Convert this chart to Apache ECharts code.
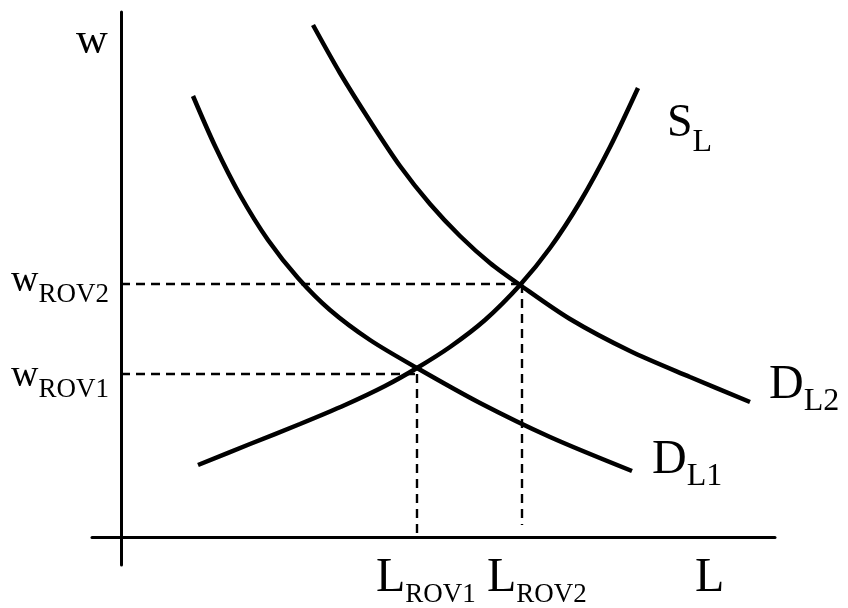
<!DOCTYPE html>
<html>
<head>
<meta charset="utf-8">
<script src="https://cdn.jsdelivr.net/npm/echarts@6/dist/echarts.min.js"></script>
<style>
  html, body { margin: 0; padding: 0; background: #fff; }
  #chart { width: 848px; height: 608px; }
</style>
</head>
<body>
<div id="chart"></div>
<script>
// labour market: supply and two demand curves (L along x, w up the y axis)
var supplyL  = [[77,72],[129,93],[179,113],[224,132],[264,151],[296,169],[329,190],[364,217],[399,252],[429,289],[459,335],[489,390],[517,449]];
var demandL1 = [[72,441],[94,391],[119,342],[147,297],[177,259],[209,227],[249,197],[296,169],[359,134],[429,100],[511,66]];
var demandL2 = [[192,512],[219,464],[249,416],[279,371],[309,333],[339,301],[369,274],[399,252],[449,218],[509,186],[569,160],[629,135]];

// equilibrium points (L, w)
var eq1 = [296, 163];
var eq2 = [401, 253];

var FONT = 'Liberation Serif';

// text labels: main part, subscript part
var labelTexts = {
  w: ['w', ''],
  wRov2: ['w', 'ROV2'],
  wRov1: ['w', 'ROV1'],
  lRov1: ['L', 'ROV1'],
  lRov2: ['L', 'ROV2'],
  l: ['L', ''],
  sL: ['S', 'L'],
  dL1: ['D', 'L1'],
  dL2: ['D', 'L2']
};

var chart = echarts.init(document.getElementById('chart'));

function dashed(points) {
  return {
    type: 'line',
    data: points,
    symbol: 'none',
    silent: true,
    lineStyle: { color: '#000', width: 2.4, type: [9, 6] },
    z: 1
  };
}

function curve(points) {
  return {
    type: 'line',
    data: points,
    symbol: 'none',
    smooth: 0.3,
    silent: true,
    lineStyle: { color: '#000', width: 4.5, cap: 'butt' },
    z: 3
  };
}

// rich-text label with subscript; (x, base) = left edge and baseline of main text
function label(key, x, base, fs, ss, pad) {
  var t = labelTexts[key];
  var txt = '{m|' + t[0] + '}' + (t[1] ? '{s|' + t[1] + '}' : '');
  return {
    type: 'text',
    x: x,
    y: base + 0.195 * fs + pad,
    style: {
      text: txt,
      align: 'left',
      verticalAlign: 'bottom',
      fill: '#000',
      rich: {
        m: { fontFamily: FONT, fontSize: fs, lineHeight: fs, verticalAlign: 'bottom', padding: [0, 0, pad, 0] },
        s: { fontFamily: FONT, fontSize: ss, lineHeight: ss, verticalAlign: 'bottom' }
      }
    }
  };
}

var option = {
  backgroundColor: '#fff',
  animation: false,
  grid: { left: 92, right: 73, top: 12, bottom: 43 },
  xAxis: {
    type: 'value', min: -29, max: 654,
    axisLine: { onZero: true, lineStyle: { color: '#000', width: 3 } },
    axisTick: { show: false }, axisLabel: { show: false }, splitLine: { show: false }
  },
  yAxis: {
    type: 'value', min: -28, max: 525,
    axisLine: { show: true, onZero: true, lineStyle: { color: '#000', width: 3 } },
    axisTick: { show: false }, axisLabel: { show: false }, splitLine: { show: false }
  },
  series: [
    dashed([[0, eq2[1]], eq2]),
    dashed([eq2, [eq2[0], 12]]),
    dashed([[0, eq1[1]], eq1]),
    dashed([eq1, [eq1[0], 0]]),
    curve(supplyL),
    curve(demandL1),
    curve(demandL2)
  ],
  graphic: [
    label('w', 76, 55, 44, 26, 0),
    label('wRov2', 11, 293, 38, 27, 8),
    label('wRov1', 11, 388, 38, 27, 8),
    label('lRov1', 376, 593, 48, 27, 6),
    label('lRov2', 487, 593, 48, 27, 6),
    label('l', 695, 593, 48, 32, 0),
    label('sL', 667, 138, 46, 32, 12),
    label('dL2', 769, 400, 48, 32, 8),
    label('dL1', 652, 475, 48, 32, 8)
  ]
};

chart.setOption(option);
</script>
</body>
</html>
